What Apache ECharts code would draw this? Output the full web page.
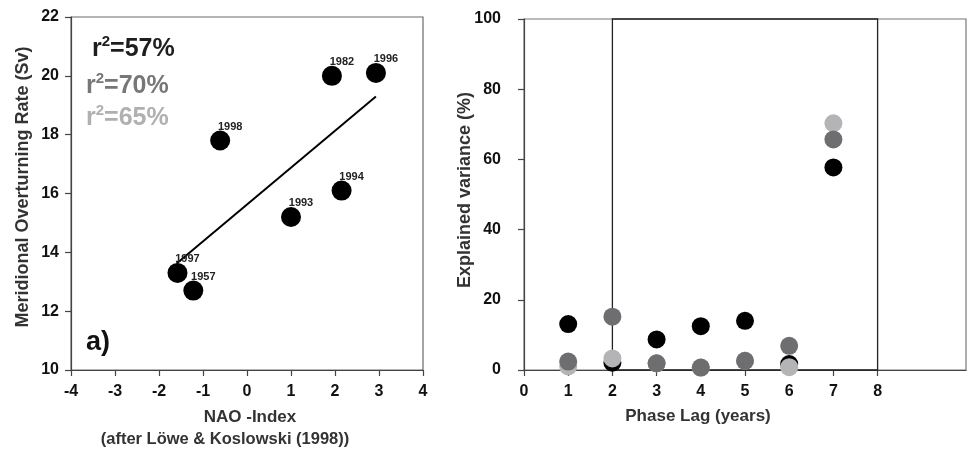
<!DOCTYPE html>
<html>
<head>
<meta charset="utf-8">
<script src="https://cdn.jsdelivr.net/npm/echarts@6/dist/echarts.min.js"></script>
<style>
  html, body { margin: 0; padding: 0; background: #fff; }
  #chart { width: 971px; height: 450px; }
</style>
</head>
<body>
<div id="chart"></div>
<script>
// Panel a): meridional overturning rate against the NAO index, one point per year
const naoIndex    = [1.93, 2.93, -0.61, 2.15, 1.00, -1.58, -1.22];
const overturning = [20.0, 20.1, 17.8, 16.1, 15.2, 13.3, 12.7];
const yearNames   = ['1982', '1996', '1998', '1994', '1993', '1997', '1957'];

// Least-squares line through the yearly points (end points)
const fitNao  = [-1.60, 2.93];
const fitRate = [13.62, 19.30];

// Explained variance of the three fits
const r2Labels = ['57%', '70%', '65%'];

// Panel b): explained variance versus phase lag for the three fits
const phaseLag      = [1, 2, 3, 4, 5, 6, 7];
const varianceBlack = [13.1, 2.1, 8.7, 12.5, 14.0, 1.7, 57.7];
const varianceDark  = [2.4, 15.2, 1.9, 0.7, 2.6, 6.9, 65.7];
const varianceLight = [1.0, 3.3, 1.9, 0.7, 2.6, 0.8, 70.3];

// Phase lag window box and labelled lag ticks
const windowLag = [2, 8];
const windowVar = [0, 100];
const lagTicks  = [0, 1, 2, 3, 4, 5, 6, 7, 8];

const FONT = '"Liberation Sans", Arial, sans-serif';
const BLACK = '#000000', DARK = '#6e6e70', LIGHT = '#b4b4b6';

const chart = echarts.init(document.getElementById('chart'), null, { renderer: 'canvas' });

const tickLabel = { fontFamily: FONT, fontWeight: 'bold', fontSize: 16, color: '#111' };
const axisLine = { show: true, onZero: false, lineStyle: { color: '#444', width: 1.2 } };
const axisTick = { show: true, inside: false, length: 6, lineStyle: { color: '#444', width: 1.2 } };

const yearPoints = naoIndex.map((x, i) => ({ value: [x, overturning[i]], name: yearNames[i] }));
const fitPoints = fitNao.map((x, i) => [x, fitRate[i]]);

function pairs(ys) { return phaseLag.map((x, i) => [x, ys[i]]); }

function r2Text(value) {
  return '{r|r}{s|2}{r|=' + value + '}';
}
function r2Rich(color) {
  return {
    r: { fontFamily: FONT, fontWeight: 'bold', fontSize: 25, lineHeight: 28, fill: color, verticalAlign: 'bottom' },
    s: { fontFamily: FONT, fontWeight: 'bold', fontSize: 15, lineHeight: 28, fill: color, verticalAlign: 'top' }
  };
}

const option = {
  backgroundColor: '#fff',
  animation: false,
  grid: [
    { left: 71, top: 17, width: 352, height: 353, show: true, borderColor: '#6a6a6a', borderWidth: 1.2, backgroundColor: 'transparent' },
    { left: 524, top: 19, width: 442, height: 351, show: true, borderColor: '#777', borderWidth: 1.2, backgroundColor: 'transparent' }
  ],
  xAxis: [
    {
      gridIndex: 0, type: 'value', min: -4, max: 4, interval: 1,
      axisLine: axisLine, axisTick: axisTick, splitLine: { show: false },
      axisLabel: Object.assign({ margin: 14 }, tickLabel)
    },
    {
      gridIndex: 1, type: 'value', min: 0, max: 10, interval: 1,
      axisLine: axisLine,
      axisTick: Object.assign({ customValues: lagTicks }, axisTick),
      splitLine: { show: false },
      axisLabel: Object.assign({ margin: 14, customValues: lagTicks }, tickLabel)
    }
  ],
  yAxis: [
    {
      gridIndex: 0, type: 'value', min: 10, max: 22, interval: 2,
      axisLine: axisLine, axisTick: axisTick, splitLine: { show: false },
      axisLabel: Object.assign({ margin: 12 }, tickLabel)
    },
    {
      gridIndex: 1, type: 'value', min: 0, max: 100, interval: 20,
      axisLine: axisLine, axisTick: axisTick, splitLine: { show: false },
      axisLabel: Object.assign({ margin: 23 }, tickLabel)
    }
  ],
  series: [
    {
      type: 'line', xAxisIndex: 0, yAxisIndex: 0, data: fitPoints,
      symbol: 'none', lineStyle: { color: '#000', width: 2 }, z: 3
    },
    {
      type: 'scatter', xAxisIndex: 0, yAxisIndex: 0, data: yearPoints,
      symbolSize: 20, itemStyle: { color: BLACK, opacity: 1 }, z: 4,
      label: {
        show: true, position: 'inside', offset: [10, -14], formatter: '{b}',
        fontFamily: FONT, fontWeight: 'bold', fontSize: 11, color: '#222'
      }
    },
    {
      type: 'scatter', xAxisIndex: 1, yAxisIndex: 1, data: pairs(varianceBlack),
      symbolSize: 18, itemStyle: { color: BLACK, opacity: 1 }, z: 4,
      markArea: {
        silent: true,
        itemStyle: { color: 'rgba(0,0,0,0)', borderColor: '#222', borderWidth: 1.3 },
        data: [[{ coord: [windowLag[0], windowVar[0]] }, { coord: [windowLag[1], windowVar[1]] }]]
      }
    },
    {
      type: 'scatter', xAxisIndex: 1, yAxisIndex: 1, data: pairs(varianceLight),
      symbolSize: 18, itemStyle: { color: LIGHT, opacity: 1 }, z: 5
    },
    {
      type: 'scatter', xAxisIndex: 1, yAxisIndex: 1, data: pairs(varianceDark),
      symbolSize: 18, itemStyle: { color: DARK, opacity: 1 }, z: 6
    }
  ],
  graphic: [
    { type: 'text', x: 92, y: 48, style: { text: r2Text(r2Labels[0]), rich: r2Rich('#1e1e1e'), fill: '#1e1e1e', verticalAlign: 'middle' } },
    { type: 'text', x: 86, y: 85, style: { text: r2Text(r2Labels[1]), rich: r2Rich('#777779'), fill: '#777779', verticalAlign: 'middle' } },
    { type: 'text', x: 86, y: 117, style: { text: r2Text(r2Labels[2]), rich: r2Rich('#b0b0b2'), fill: '#b0b0b2', verticalAlign: 'middle' } },
    { type: 'text', x: 86, y: 343, style: { text: 'a)', font: 'bold 27px ' + FONT, fill: '#111', verticalAlign: 'middle' } },
    { type: 'text', x: 23, y: 187, rotation: Math.PI / 2,
      style: { text: 'Meridional Overturning Rate (Sv)', font: 'bold 18px ' + FONT, fill: '#333', align: 'center', verticalAlign: 'middle' } },
    { type: 'text', x: 465, y: 190, rotation: Math.PI / 2,
      style: { text: 'Explained variance (%)', font: 'bold 18px ' + FONT, fill: '#333', align: 'center', verticalAlign: 'middle' } },
    { type: 'text', x: 250, y: 417,
      style: { text: 'NAO -Index', font: 'bold 17px ' + FONT, fill: '#333', align: 'center', verticalAlign: 'middle' } },
    { type: 'text', x: 225, y: 439,
      style: { text: '(after Löwe & Koslowski (1998))', font: 'bold 16.5px ' + FONT, fill: '#333', align: 'center', verticalAlign: 'middle' } },
    { type: 'text', x: 698, y: 416,
      style: { text: 'Phase Lag (years)', font: 'bold 17px ' + FONT, fill: '#333', align: 'center', verticalAlign: 'middle' } }
  ]
};

chart.setOption(option);
</script>
</body>
</html>
